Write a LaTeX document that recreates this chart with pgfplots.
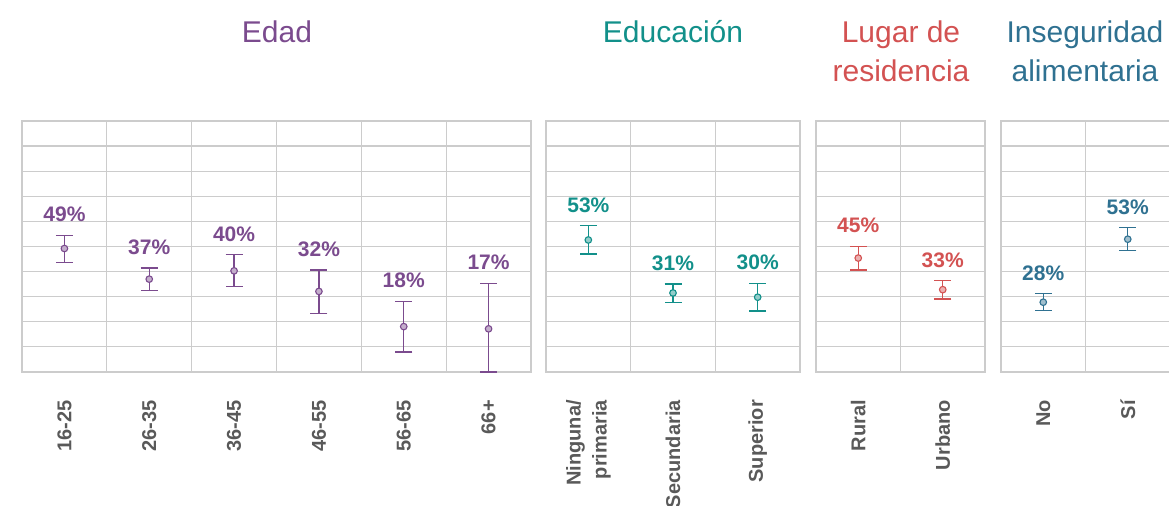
\documentclass[border=0pt]{standalone}
\usepackage{fontspec}
\setmainfont{Liberation Sans}
\usepackage{pgfplots}
\usepackage{pgfplotstable}
\pgfplotsset{compat=1.18}
\definecolor{cEdad}{HTML}{7B4B8E}
\definecolor{cEdu}{HTML}{12908A}
\definecolor{cLug}{HTML}{D35252}
\definecolor{cIns}{HTML}{2F7191}
\definecolor{cGrid}{HTML}{CCCCCC}
\definecolor{cTick}{HTML}{595959}

\pgfplotstableread{
x y ep em up lab
0 49.2 5.3 5.5 54.5 49
1 37.0 4.4 4.5 41.4 37
2 40.3 6.5 6.3 46.8 40
3 32.1 8.6 8.7 40.7 32
4 18.1 10.1 10.2 28.2 18
5 17.2 18.1 17.2 35.3 17
}\edad
\pgfplotstableread{
x y ep em up lab
0 52.6 5.7 5.6 58.3 53
1 31.5 3.6 3.7 35.1 31
2 29.8 5.5 5.5 35.3 30
}\edu
\pgfplotstableread{
x y ep em up lab
0 45.4 4.6 4.8 50.0 45
1 32.8 3.6 3.7 36.4 33
}\lug
\pgfplotstableread{
x y ep em up lab
0 27.8 3.4 3.3 31.2 28
1 52.9 4.6 4.6 57.5 53
}\ins

\pgfplotsset{
  panel/.style={
    scale only axis, height=251bp,
    anchor=south west,
    ymin=0, ymax=100,
    ytick={10,20,...,90}, yticklabels={},
    ymajorgrids, xminorgrids,
    major tick length=0pt, minor tick length=0pt,
    axis line style={cGrid, line width=1.2bp},
    major grid style={cGrid, line width=1.2bp},
    minor grid style={cGrid, line width=1.2bp},
    clip=false,
    xticklabel style={rotate=90, anchor=east, align=right, inner sep=0pt,
      font=\fontsize{20bp}{26bp}\selectfont\bfseries, text=cTick},
    xticklabel shift=28bp,
  },
  pts/.style={only marks, mark=*, mark size=3.3bp,
    mark options={draw=#1, fill=#1!45, line width=1.1bp},
    error bars/.cd, y dir=both, y explicit,
    error bar style={#1, line width=1.4bp},
    error mark options={#1, line width=1.4bp, mark size=8.5bp, rotate=90}},
  labs/.style={only marks, mark=none,
    point meta=explicit symbolic,
    nodes near coords={\pgfplotspointmeta\%},
    nodes near coords style={anchor=base, yshift=13.5bp, inner sep=0pt,
      font=\fontsize{21bp}{25bp}\selectfont\bfseries, text=#1}},
}

\begin{document}
\begin{tikzpicture}
% Panel 1: Edad
\begin{axis}[panel, at={(22bp,134bp)}, width=509bp,
  xmin=-0.5, xmax=5.5, xtick={0,...,5},
  minor xtick={0.5,1.5,...,4.5},
  xticklabels={16-25,26-35,36-45,46-55,56-65,66+}]
\addplot[pts=cEdad] table[x=x,y=y,y error plus=ep,y error minus=em]{\edad};
\addplot[labs=cEdad] table[x=x,y=up,meta=lab]{\edad};
\end{axis}
% Panel 2: Educacion
\begin{axis}[panel, at={(546bp,134bp)}, width=254bp,
  xmin=-0.5, xmax=2.5, xtick={0,1,2},
  minor xtick={0.5,1.5},
  xticklabels={Ninguna/\\primaria,Secundaria,Superior}]
\addplot[pts=cEdu] table[x=x,y=y,y error plus=ep,y error minus=em]{\edu};
\addplot[labs=cEdu] table[x=x,y=up,meta=lab]{\edu};
\end{axis}
% Panel 3: Lugar de residencia
\begin{axis}[panel, at={(816bp,134bp)}, width=169bp,
  xmin=-0.5, xmax=1.5, xtick={0,1},
  minor xtick={0.5},
  xticklabels={Rural,Urbano}]
\addplot[pts=cLug] table[x=x,y=y,y error plus=ep,y error minus=em]{\lug};
\addplot[labs=cLug] table[x=x,y=up,meta=lab]{\lug};
\end{axis}
% Panel 4: Inseguridad alimentaria
\begin{axis}[panel, at={(1001bp,134bp)}, width=169bp,
  xmin=-0.5, xmax=1.5, xtick={0,1},
  minor xtick={0.5},
  xticklabels={No,Sí}]
\addplot[pts=cIns] table[x=x,y=y,y error plus=ep,y error minus=em]{\ins};
\addplot[labs=cIns] table[x=x,y=up,meta=lab]{\ins};
\end{axis}
% Titles
\begin{scope}[every node/.style={anchor=base, inner sep=0pt, font=\fontsize{30bp}{36bp}\selectfont}]
\node[text=cEdad] at (277bp,463bp) {Edad};
\node[text=cEdu] at (673bp,463bp) {Educación};
\node[text=cLug] at (901bp,463bp) {Lugar de};
\node[text=cLug] at (901bp,424bp) {residencia};
\node[text=cIns] at (1085bp,463bp) {Inseguridad};
\node[text=cIns] at (1085bp,424bp) {alimentaria};
\end{scope}
\pgfresetboundingbox
\useasboundingbox (0,0) rectangle (1169bp,506bp);
\end{tikzpicture}
\end{document}
